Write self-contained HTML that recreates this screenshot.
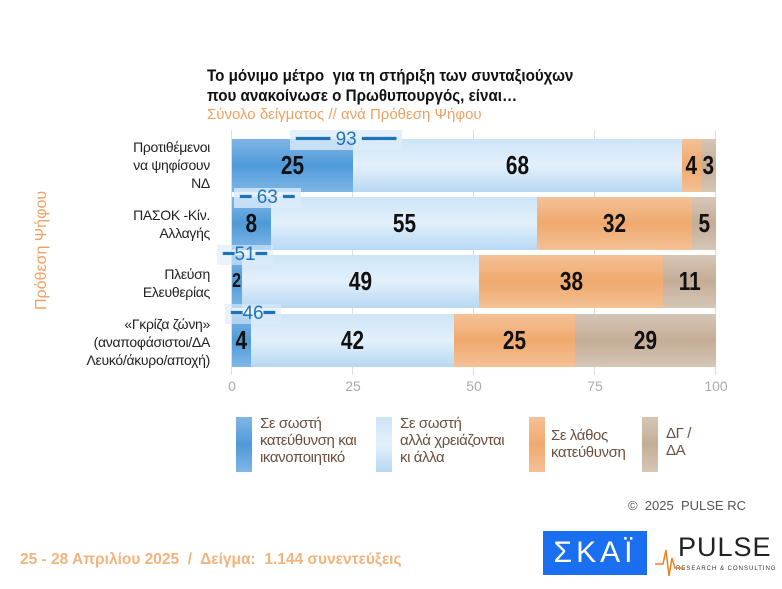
<!DOCTYPE html><html><head><meta charset="utf-8"><style>
body{margin:0;width:782px;height:589px;background:#fff;font-family:"Liberation Sans",sans-serif;position:relative;overflow:hidden}
.a{position:absolute}
.seg{position:absolute;top:0;height:100%}
.s1{background:linear-gradient(#7fb6e6,#4f9ad9 50%,#7fb6e6)}
.s2{background:linear-gradient(#cde5f8,#e3f0fb 50%,#b7d8f3)}
.s3{background:linear-gradient(#f4c196,#f0a96e 50%,#f4c196)}
.s4{background:linear-gradient(#d6c6b6,#c4ad97 50%,#d6c6b6)}
.n{position:absolute;top:0;height:100%;display:flex;align-items:center;justify-content:center;font-weight:bold;font-size:26px;color:#111}
.n span{display:inline-block;transform:scaleX(.8)}
.lab{position:absolute;right:572px;text-align:right;font-size:14px;color:#222;line-height:18px;letter-spacing:-.3px}
.tot{position:absolute;color:#1f74b8;font-size:19px;background:rgba(220,235,250,.8);padding:0 6px;line-height:20px}
.grid{position:absolute;top:130px;height:245px;width:1px;background:#ddd}
.tick{position:absolute;top:378px;font-size:14px;color:#aaa;width:30px;text-align:center}
.lg{position:absolute;top:415px;font-size:15px;color:#6b4f3f;line-height:17px;letter-spacing:-.4px}
.sw{position:absolute;top:417px;width:16px;height:55px}
</style></head><body>
<div class="a" style="left:207px;top:66px;font-size:16.5px;font-weight:bold;color:#111;line-height:20px;transform:scaleX(.92);transform-origin:0 0;white-space:nowrap">Το μόνιμο μέτρο&nbsp; για τη στήριξη των συνταξιούχων<br>που ανακοίνωσε ο Πρωθυπουργός, είναι…</div>
<div class="a" style="left:207px;top:106px;font-size:15px;color:#f0a060">Σύνολο δείγματος // ανά Πρόθεση Ψήφου</div>
<div class="a" style="left:33px;top:310px;transform:rotate(-90deg);transform-origin:0 0;font-size:16px;color:#f0a060;white-space:nowrap">Πρόθεση Ψήφου</div>
<div class="grid" style="left:231px"></div><div class="grid" style="left:352px"></div><div class="grid" style="left:473px"></div><div class="grid" style="left:594px"></div><div class="grid" style="left:715px"></div>
<div class="tick" style="left:217px">0</div><div class="tick" style="left:338px">25</div><div class="tick" style="left:459px">50</div><div class="tick" style="left:580px">75</div><div class="tick" style="left:701px">100</div>

<div class="lab" style="top:138px;">Προτιθέμενοι<br>να ψηφίσουν<br>ΝΔ</div>
<div class="lab" style="top:206px;">ΠΑΣΟΚ -Κίν.<br>Αλλαγής</div>
<div class="lab" style="top:265px;">Πλεύση<br>Ελευθερίας</div>
<div class="lab" style="top:315px;">«Γκρίζα ζώνη»<br>(αναποφάσιστοι/ΔΑ<br>Λευκό/άκυρο/αποχή)</div>

<div class="a" style="left:232px;top:139px;width:484px;height:53px">
<div class="seg s1" style="left:0;width:121px"></div><div class="seg s2" style="left:121px;width:329px"></div><div class="seg s3" style="left:450px;width:19px"></div><div class="seg s4" style="left:469px;width:15px"></div>
<div class="n" style="left:0;width:121px"><span>25</span></div><div class="n" style="left:121px;width:329px"><span>68</span></div><div class="n" style="left:450px;width:19px"><span>4</span></div><div class="n" style="left:469px;width:15px"><span>3</span></div></div>
<div class="a" style="left:232px;top:197px;width:484px;height:53px">
<div class="seg s1" style="left:0;width:39px"></div><div class="seg s2" style="left:39px;width:266px"></div><div class="seg s3" style="left:305px;width:155px"></div><div class="seg s4" style="left:460px;width:24px"></div>
<div class="n" style="left:0;width:39px"><span>8</span></div><div class="n" style="left:39px;width:266px"><span>55</span></div><div class="n" style="left:305px;width:155px"><span>32</span></div><div class="n" style="left:460px;width:24px"><span>5</span></div></div>
<div class="a" style="left:232px;top:255px;width:484px;height:53px">
<div class="seg s1" style="left:0;width:10px"></div><div class="seg s2" style="left:10px;width:237px"></div><div class="seg s3" style="left:247px;width:184px"></div><div class="seg s4" style="left:431px;width:53px"></div>
<div class="n" style="left:0;width:10px;font-size:20px"><span>2</span></div><div class="n" style="left:10px;width:237px"><span>49</span></div><div class="n" style="left:247px;width:184px"><span>38</span></div><div class="n" style="left:431px;width:53px"><span>11</span></div></div>
<div class="a" style="left:232px;top:314px;width:484px;height:53px">
<div class="seg s1" style="left:0;width:19px"></div><div class="seg s2" style="left:19px;width:203px"></div><div class="seg s3" style="left:222px;width:121px"></div><div class="seg s4" style="left:343px;width:141px"></div>
<div class="n" style="left:0;width:19px"><span>4</span></div><div class="n" style="left:19px;width:203px"><span>42</span></div><div class="n" style="left:222px;width:121px"><span>25</span></div><div class="n" style="left:343px;width:141px"><span>29</span></div></div>

<div class="tot" style="left:290px;top:130px">━━━ 93 ━━━</div>
<div class="tot" style="left:234px;top:188px">━ 63 ━</div>
<div class="tot" style="left:217px;top:245px;background:rgba(220,235,250,.6)">━51━</div>
<div class="tot" style="left:225px;top:304px;background:rgba(220,235,250,.6)">━46━</div>

<div class="sw s1" style="left:236px"></div><div class="lg" style="left:260px">Σε σωστή<br>κατεύθυνση και<br>ικανοποιητικό</div>
<div class="sw s2" style="left:376px"></div><div class="lg" style="left:400px">Σε σωστή<br>αλλά χρειάζονται<br>κι άλλα</div>
<div class="sw s3" style="left:529px"></div><div class="lg" style="left:551px;top:427px">Σε λάθος<br>κατεύθυνση</div>
<div class="sw s4" style="left:642px"></div><div class="lg" style="left:666px;top:425px">ΔΓ /<br>ΔΑ</div>

<div class="a" style="left:628px;top:498px;font-size:13px;color:#555">©&nbsp; 2025&nbsp; PULSE RC</div>
<div class="a" style="left:20px;top:551px;font-size:15.5px;font-weight:bold;color:#f4b27c">25 - 28 Απριλίου 2025&nbsp; /&nbsp; Δείγμα:&nbsp; 1.144 συνεντεύξεις</div>
<div class="a" style="left:543px;top:531px;width:104px;height:44px;background:#1a6ef0;color:#fff;font-size:30px;display:flex;align-items:center;justify-content:center;letter-spacing:4px">ΣΚΑΪ</div>
<div class="a" style="left:678px;top:532px;font-size:27px;color:#222;letter-spacing:1px">PULSE</div>
<div class="a" style="left:676px;top:566px;font-size:6px;color:#333;letter-spacing:1px">RESEARCH &amp; CONSULTING</div>
<svg class="a" style="left:655px;top:540px" width="30" height="40"><polyline points="0,24 8,24 11,10 14,36 17,18 20,28 30,28" fill="none" stroke="#f08020" stroke-width="1.5"/></svg>
</body></html>
